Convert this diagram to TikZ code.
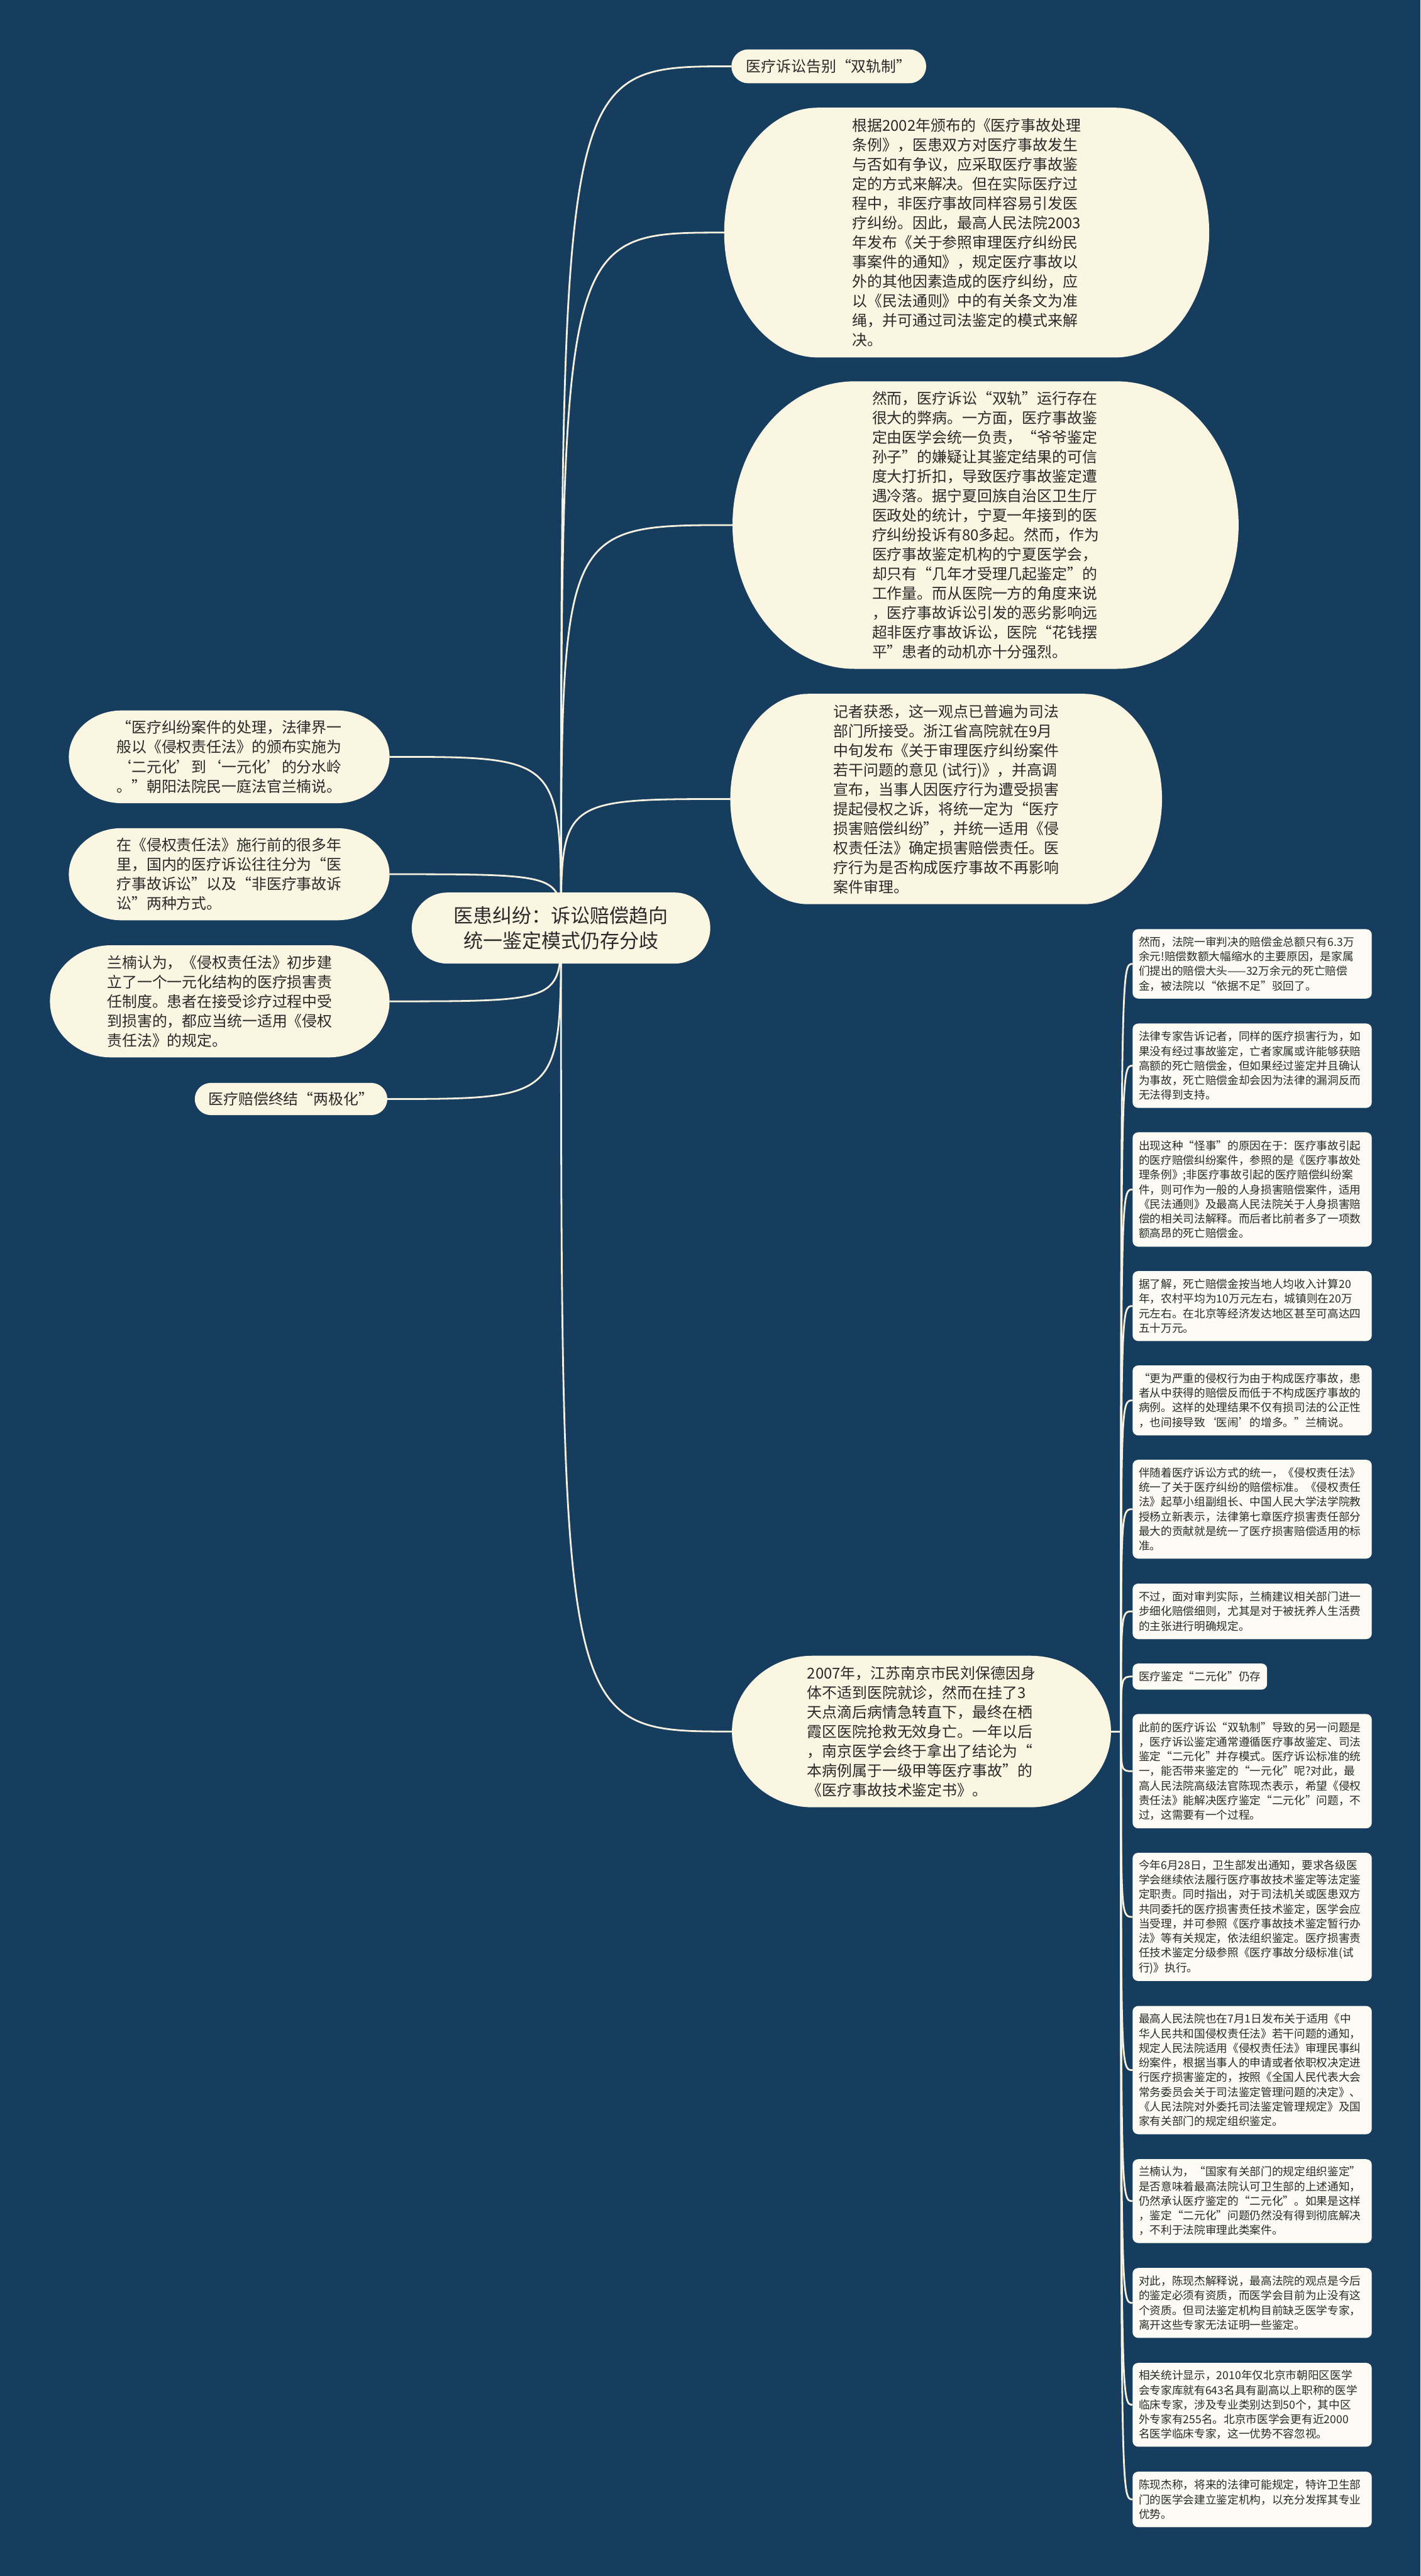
\documentclass[tikz,border=0pt]{standalone}
\usepackage{fontspec}
\setmainfont{Noto Sans CJK SC}
\definecolor{pagebg}{HTML}{173D5E}
\definecolor{bubblefill}{HTML}{FBF6E2}
\definecolor{cardfill}{HTML}{FDFCF4}
\definecolor{wirecol}{HTML}{F6F1DE}
\definecolor{ink}{HTML}{2A2A2A}
\pgfdeclarelayer{backdrop}
\pgfdeclarelayer{wires}
\pgfsetlayers{backdrop,wires,main}
\tikzset{
  bubble/.style 2 args={inner sep=0pt, outer sep=0pt, align=left, text=ink,
    font=\fontsize{7.7pt}{10pt}\selectfont,
    path picture={
      \fill[bubblefill] ([xshift=#1]path picture bounding box.north west)
        -- ([xshift=-#1]path picture bounding box.north east)
        arc[start angle=90, end angle=0, x radius=#1, y radius=#2]
        -- ([yshift=#2]path picture bounding box.south east)
        arc[start angle=0, end angle=-90, x radius=#1, y radius=#2]
        -- ([xshift=#1]path picture bounding box.south west)
        arc[start angle=270, end angle=180, x radius=#1, y radius=#2]
        -- ([yshift=-#2]path picture bounding box.north west)
        arc[start angle=180, end angle=90, x radius=#1, y radius=#2]
        -- cycle;
    }},
  tag/.style={anchor=north west, fill=cardfill, rounded corners=0.1cm,
    inner xsep=0.11cm, inner ysep=0pt, outer sep=0pt, align=left, text=ink,
    font=\fontsize{5.7pt}{7.5pt}\selectfont},
  card/.style={tag, text width=4.09cm, minimum width=4.31cm},
  branch/.style={to path={.. controls (\tikztostart |- \tikztotarget) .. (\tikztotarget)}},
  wire/.style={draw=wirecol, line width=0.9pt}
}
\begin{document}
\begin{tikzpicture}
  \useasboundingbox (0,0) rectangle (25.6,-46.41);
  \begin{pgfonlayer}{backdrop}
    \fill[pagebg] (0,0) rectangle (25.6,-46.41);
  \end{pgfonlayer}

  \node[bubble={0.64cm}{0.64cm}, align=center, minimum width=5.38cm, minimum height=1.28cm,
    font=\fontsize{10pt}{13pt}\selectfont] (hub) at (10.11,-16.72)
    {医患纠纷：诉讼赔偿趋向\\统一鉴定模式仍存分歧};

  \node[bubble={0.305cm}{0.305cm}, minimum width=3.51cm, minimum height=0.61cm] (t1) at (14.935,-1.195)
    {医疗诉讼告别“双轨制”};
  \node[bubble={1.69cm}{2.25cm}, minimum width=8.74cm, minimum height=4.5cm] (t2) at (17.42,-4.19)
    {根据2002年颁布的《医疗事故处理\\条例》，医患双方对医疗事故发生\\与否如有争议，应采取医疗事故鉴\\定的方式来解决。但在实际医疗过\\程中，非医疗事故同样容易引发医\\疗纠纷。因此，最高人民法院2003\\年发布《关于参照审理医疗纠纷民\\事案件的通知》，规定医疗事故以\\外的其他因素造成的医疗纠纷，应\\以《民法通则》中的有关条文为准\\绳，并可通过司法鉴定的模式来解\\决。};
  \node[bubble={2.2cm}{2.59cm}, minimum width=9.12cm, minimum height=5.18cm] (t3) at (17.76,-9.46)
    {然而，医疗诉讼“双轨”运行存在\\很大的弊病。一方面，医疗事故鉴\\定由医学会统一负责，“爷爷鉴定\\孙子”的嫌疑让其鉴定结果的可信\\度大打折扣，导致医疗事故鉴定遭\\遇冷落。据宁夏回族自治区卫生厅\\医政处的统计，宁夏一年接到的医\\疗纠纷投诉有80多起。然而，作为\\医疗事故鉴定机构的宁夏医学会，\\却只有“几年才受理几起鉴定”的\\工作量。而从医院一方的角度来说\\，医疗事故诉讼引发的恶劣影响远\\超非医疗事故诉讼，医院“花钱摆\\平”患者的动机亦十分强烈。};
  \node[bubble={1.41cm}{1.895cm}, minimum width=7.78cm, minimum height=3.79cm] (t4) at (17.05,-14.395)
    {记者获悉，这一观点已普遍为司法\\部门所接受。浙江省高院就在9月\\中旬发布《关于审理医疗纠纷案件\\若干问题的意见 (试行)》，并高调\\宣布，当事人因医疗行为遭受损害\\提起侵权之诉，将统一定为“医疗\\损害赔偿纠纷”，并统一适用《侵\\权责任法》确定损害赔偿责任。医\\疗行为是否构成医疗事故不再影响\\案件审理。};
  \node[bubble={1.45cm}{1.365cm}, minimum width=6.83cm, minimum height=2.73cm] (t5) at (16.605,-31.195)
    {2007年，江苏南京市民刘保德因身\\体不适到医院就诊，然而在挂了3\\天点滴后病情急转直下，最终在栖\\霞区医院抢救无效身亡。一年以后\\，南京医学会终于拿出了结论为“\\本病例属于一级甲等医疗事故”的\\《医疗事故技术鉴定书》。};

  \node[bubble={0.95cm}{0.835cm}, minimum width=5.78cm, minimum height=1.67cm] (l1) at (4.13,-13.635)
    {“医疗纠纷案件的处理，法律界一\\般以《侵权责任法》的颁布实施为\\‘二元化’到‘一元化’的分水岭\\。”朝阳法院民一庭法官兰楠说。};
  \node[bubble={0.95cm}{0.83cm}, minimum width=5.78cm, minimum height=1.66cm] (l2) at (4.13,-15.75)
    {在《侵权责任法》施行前的很多年\\里，国内的医疗诉讼往往分为“医\\疗事故诉讼”以及“非医疗事故诉\\讼”两种方式。};
  \node[bubble={1.1cm}{1.01cm}, minimum width=6.12cm, minimum height=2.02cm] (l3) at (3.96,-18.04)
    {兰楠认为，《侵权责任法》初步建\\立了一个一元化结构的医疗损害责\\任制度。患者在接受诊疗过程中受\\到损害的，都应当统一适用《侵权\\责任法》的规定。};
  \node[bubble={0.29cm}{0.29cm}, minimum width=3.47cm, minimum height=0.58cm] (l4) at (5.245,-19.80)
    {医疗赔偿终结“两极化”};

  \node[card, minimum height=1.25cm] (r1) at (20.41,-16.74)
    {然而，法院一审判决的赔偿金总额只有6.3万\\余元!赔偿数额大幅缩水的主要原因，是家属\\们提出的赔偿大头——32万余元的死亡赔偿\\金，被法院以“依据不足”驳回了。};
  \node[card, minimum height=1.52cm] (r2) at (20.41,-18.44)
    {法律专家告诉记者，同样的医疗损害行为，如\\果没有经过事故鉴定，亡者家属或许能够获赔\\高额的死亡赔偿金，但如果经过鉴定并且确认\\为事故，死亡赔偿金却会因为法律的漏洞反而\\无法得到支持。};
  \node[card, minimum height=2.06cm] (r3) at (20.41,-20.40)
    {出现这种“怪事”的原因在于：医疗事故引起\\的医疗赔偿纠纷案件，参照的是《医疗事故处\\理条例》;非医疗事故引起的医疗赔偿纠纷案\\件，则可作为一般的人身损害赔偿案件，适用\\《民法通则》及最高人民法院关于人身损害赔\\偿的相关司法解释。而后者比前者多了一项数\\额高昂的死亡赔偿金。};
  \node[card, minimum height=1.26cm] (r4) at (20.41,-22.90)
    {据了解，死亡赔偿金按当地人均收入计算20\\年，农村平均为10万元左右，城镇则在20万\\元左右。在北京等经济发达地区甚至可高达四\\五十万元。};
  \node[card, minimum height=1.26cm] (r5) at (20.41,-24.60)
    {“更为严重的侵权行为由于构成医疗事故，患\\者从中获得的赔偿反而低于不构成医疗事故的\\病例。这样的处理结果不仅有损司法的公正性\\，也间接导致‘医闹’的增多。”兰楠说。};
  \node[card, minimum height=1.78cm] (r6) at (20.41,-26.30)
    {伴随着医疗诉讼方式的统一，《侵权责任法》\\统一了关于医疗纠纷的赔偿标准。《侵权责任\\法》起草小组副组长、中国人民大学法学院教\\授杨立新表示，法律第七章医疗损害责任部分\\最大的贡献就是统一了医疗损害赔偿适用的标\\准。};
  \node[card, minimum height=1.00cm] (r7) at (20.41,-28.53)
    {不过，面对审判实际，兰楠建议相关部门进一\\步细化赔偿细则，尤其是对于被抚养人生活费\\的主张进行明确规定。};
  \node[tag, minimum height=0.47cm] (r8) at (20.41,-29.97)
    {医疗鉴定“二元化”仍存};
  \node[card, minimum height=2.06cm] (r9) at (20.41,-30.88)
    {此前的医疗诉讼“双轨制”导致的另一问题是\\，医疗诉讼鉴定通常遵循医疗事故鉴定、司法\\鉴定“二元化”并存模式。医疗诉讼标准的统\\一，能否带来鉴定的“一元化”呢?对此，最\\高人民法院高级法官陈现杰表示，希望《侵权\\责任法》能解决医疗鉴定“二元化”问题，不\\过，这需要有一个过程。};
  \node[card, minimum height=2.31cm] (r10) at (20.41,-33.38)
    {今年6月28日，卫生部发出通知，要求各级医\\学会继续依法履行医疗事故技术鉴定等法定鉴\\定职责。同时指出，对于司法机关或医患双方\\共同委托的医疗损害责任技术鉴定，医学会应\\当受理，并可参照《医疗事故技术鉴定暂行办\\法》等有关规定，依法组织鉴定。医疗损害责\\任技术鉴定分级参照《医疗事故分级标准(试\\行)》执行。};
  \node[card, minimum height=2.31cm] (r11) at (20.41,-36.14)
    {最高人民法院也在7月1日发布关于适用《中\\华人民共和国侵权责任法》若干问题的通知，\\规定人民法院适用《侵权责任法》审理民事纠\\纷案件，根据当事人的申请或者依职权决定进\\行医疗损害鉴定的，按照《全国人民代表大会\\常务委员会关于司法鉴定管理问题的决定》、\\《人民法院对外委托司法鉴定管理规定》及国\\家有关部门的规定组织鉴定。};
  \node[card, minimum height=1.51cm] (r12) at (20.41,-38.90)
    {兰楠认为，“国家有关部门的规定组织鉴定”\\是否意味着最高法院认可卫生部的上述通知，\\仍然承认医疗鉴定的“二元化”。如果是这样\\，鉴定“二元化”问题仍然没有得到彻底解决\\，不利于法院审理此类案件。};
  \node[card, minimum height=1.26cm] (r13) at (20.41,-40.86)
    {对此，陈现杰解释说，最高法院的观点是今后\\的鉴定必须有资质，而医学会目前为止没有这\\个资质。但司法鉴定机构目前缺乏医学专家，\\离开这些专家无法证明一些鉴定。};
  \node[card, minimum height=1.51cm] (r14) at (20.41,-42.57)
    {相关统计显示，2010年仅北京市朝阳区医学\\会专家库就有643名具有副高以上职称的医学\\临床专家，涉及专业类别达到50个，其中区\\外专家有255名。北京市医学会更有近2000\\名医学临床专家，这一优势不容忽视。};
  \node[card, minimum height=1.00cm] (r15) at (20.41,-44.53)
    {陈现杰称，将来的法律可能规定，特许卫生部\\门的医学会建立鉴定机构，以充分发挥其专业\\优势。};

  \coordinate (fork) at ([xshift=0.18cm]t5.east);

  \begin{pgfonlayer}{wires}
  \begin{scope}[wire]
    \draw (hub.center) to[branch] (t1.west);
    \draw (hub.center) to[branch] (t2.west);
    \draw (hub.center) to[branch] (t3.west);
    \draw (hub.center) to[branch] (t4.west);
    \draw (hub.center) to[branch] (t5.west);
    \draw (hub.center) to[branch] (l1.east);
    \draw (hub.center) to[branch] (l2.east);
    \draw (hub.center) to[branch] (l3.east);
    \draw (hub.center) to[branch] (l4.east);
    \draw (t5.east) -- (fork);
    \draw (fork) to[branch] (r1.west);
    \draw (fork) to[branch] (r2.west);
    \draw (fork) to[branch] (r3.west);
    \draw (fork) to[branch] (r4.west);
    \draw (fork) to[branch] (r5.west);
    \draw (fork) to[branch] (r6.west);
    \draw (fork) to[branch] (r7.west);
    \draw (fork) to[branch] (r8.west);
    \draw (fork) to[branch] (r9.west);
    \draw (fork) to[branch] (r10.west);
    \draw (fork) to[branch] (r11.west);
    \draw (fork) to[branch] (r12.west);
    \draw (fork) to[branch] (r13.west);
    \draw (fork) to[branch] (r14.west);
    \draw (fork) to[branch] (r15.west);
  \end{scope}
  \end{pgfonlayer}
\end{tikzpicture}
\end{document}
